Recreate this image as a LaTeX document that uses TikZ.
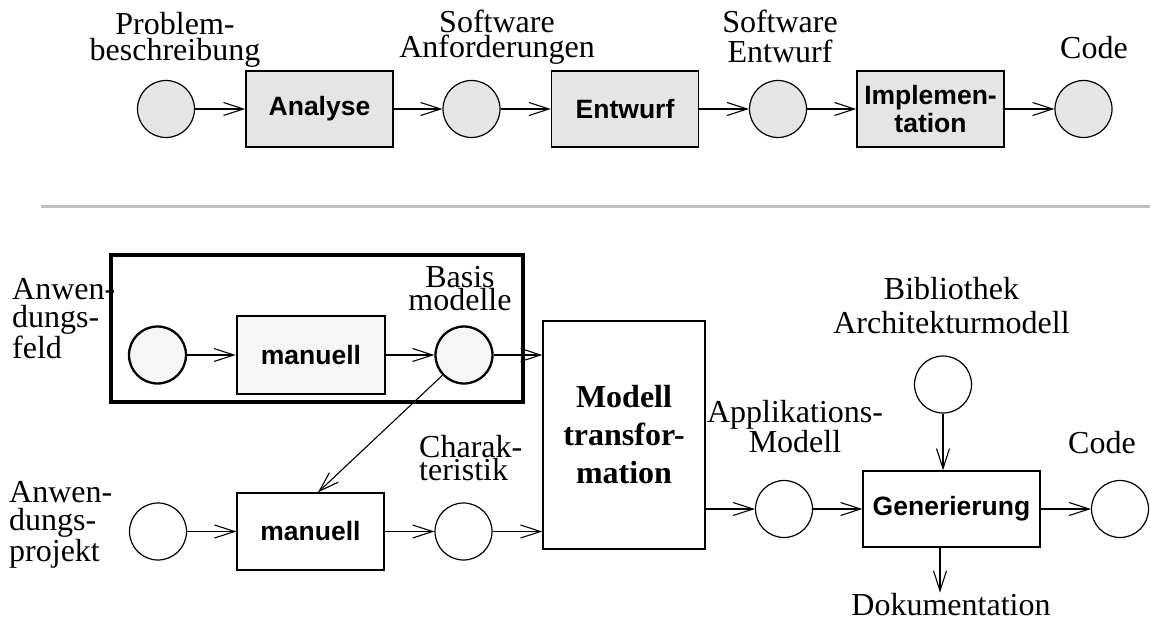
\documentclass[tikz,border=0pt]{standalone}
\usepackage{fontspec}
\setmainfont{Liberation Serif}
\newfontfamily\lsans{Liberation Sans}
\usetikzlibrary{arrows.meta}
\tikzset{
  arr/.style={-{Straight Barb[length=20pt,width=13pt]}, line width=1.1pt},
  topcirc/.style={circle, draw, fill=gray!20, line width=1.2pt, minimum size=57pt, inner sep=0pt},
  topbox/.style={rectangle, draw, fill=gray!20, line width=1.5pt, minimum width=147pt, minimum height=76pt, inner sep=0pt, align=center, font=\lsans\bfseries\fontsize{26.5}{28}\selectfont},
  frcirc/.style={circle, draw, fill=gray!7, line width=2.3pt, minimum size=57pt, inner sep=0pt},
  frbox/.style={rectangle, draw, fill=gray!7, line width=2.6pt, minimum width=148pt, minimum height=78pt, inner sep=0pt, align=center, font=\lsans\bfseries\fontsize{26.5}{28}\selectfont},
  pcirc/.style={circle, draw, line width=1.2pt, minimum size=57pt, inner sep=0pt},
  pbox/.style={rectangle, draw, line width=1.3pt, inner sep=0pt, align=center, font=\lsans\bfseries\fontsize{26.5}{28}\selectfont},
  frame/.style={rectangle, draw, line width=3.3pt, minimum width=412pt, minimum height=147pt, inner sep=0pt},
  lab/.style={inner sep=0pt, align=center, font=\fontsize{32}{28}\selectfont},
  sep/.style={draw=gray!50, line width=3pt}
}
\begin{document}
\begin{tikzpicture}[x=1pt,y=-1pt]
\useasboundingbox (0,0) rectangle (1150,620);
% ---------- top row ----------
\node[topcirc] (c1) at (166,109) {};
\node[topbox] (ana) at (319.5,109) {Analyse};
\node[topcirc] (c2) at (471.5,109) {};
\node[topbox] (ent) at (625,109) {Entwurf};
\node[topcirc] (c3) at (778,109) {};
\node[topbox] (imp) at (930.5,109) {Implemen-\\tation};
\node[topcirc] (c4) at (1083.5,109) {};
\draw[arr] (c1) -- (ana);
\draw[arr] (ana) -- (c2);
\draw[arr] (c2) -- (ent);
\draw[arr] (ent) -- (c3);
\draw[arr] (c3) -- (imp);
\draw[arr] (imp) -- (c4);
% labels: anchor=base is the baseline of the last line
\node[lab, anchor=base, font=\fontsize{32}{26}\selectfont] (lprob) at (175,61) {Problem-\\beschreibung};
\node[lab, anchor=base, font=\fontsize{32}{25}\selectfont] (lanf) at (497,58) {Software\\Anforderungen};
\node[lab, anchor=base, font=\fontsize{32}{30}\selectfont] (lsw) at (780,63) {Software\\Entwurf};
\node[lab, anchor=base] (lcode1) at (1094,59) {Code};
% ---------- separator ----------
\draw[sep] (41,207) -- (1150,207);
% ---------- bottom ----------
\node[frame] (fr) at (317,328.5) {};
\node[frcirc] (c5) at (157.5,355) {};
\node[frbox] (m1) at (311,355) {manuell};
\node[frcirc] (c6) at (464,355) {};
\node[pbox, minimum width=162pt, minimum height=228pt, font=\bfseries\fontsize{32}{38}\selectfont] (mt) at (624,435) {Modell\\transfor-\\mation};
\node[pcirc] (c7) at (158,531.5) {};
\node[pbox, minimum width=147pt, minimum height=77pt] (m2) at (310.5,531.5) {manuell};
\node[pcirc] (c9) at (463.5,531.5) {};
\node[pcirc] (c10) at (784,509) {};
\node[pbox, minimum width=177pt, minimum height=76pt] (gen) at (951.5,509) {Generierung};
\node[pcirc] (c11) at (943,384.5) {};
\node[pcirc] (c12) at (1120,509) {};
\coordinate (dt) at (318,0);
\coordinate (dk) at (940,0);
\draw[arr] (c5) -- (m1);
\draw[arr] (m1) -- (c6);
\draw[arr] (c6) -- (c6 -| mt.west);
\draw[arr] (c6) -- (m2.north -| dt);
\draw[arr] (c7) -- (m2);
\draw[arr] (m2) -- (c9);
\draw[arr] (c9) -- (c9 -| mt.west);
\draw[arr] (c10 -| mt.east) -- (c10);
\draw[arr] (c10) -- (gen);
\draw[arr] (gen) -- (c12);
\draw[arr] (c11) -- (c11 |- gen.north);
\node[lab, anchor=base] (ldoc) at (951,615) {Dokumentation};
\draw[arr] (gen.south -| dk) -- (dk |- ldoc.north);
% labels
\node[lab, anchor=base west, align=left] (lfeld) at (12,358) {Anwen-\\dungs-\\feld};
\node[lab, anchor=base, font=\fontsize{32}{23}\selectfont] (lbasis) at (460,310) {Basis\\modelle};
\node[lab, anchor=base west, align=left] (lproj) at (9,561) {Anwen-\\dungs-\\projekt};
\node[lab, anchor=base west, align=left, font=\fontsize{32}{23}\selectfont] (lchar) at (419,480) {Charak-\\teristik};
\node[lab, anchor=base, font=\fontsize{32}{30}\selectfont] (lapp) at (795,452) {Applikations-\\Modell};
\node[lab, anchor=base, font=\fontsize{32}{34}\selectfont] (lbib) at (951.5,333) {Bibliothek\\Architekturmodell};
\node[lab, anchor=base] (lcode2) at (1102,453) {Code};
\end{tikzpicture}
\end{document}
